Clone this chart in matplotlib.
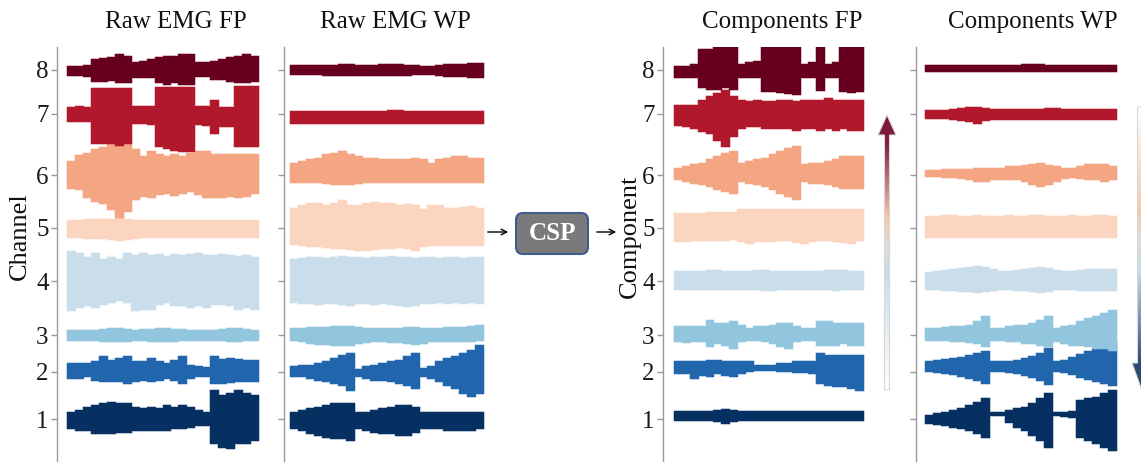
import numpy as np
import matplotlib
matplotlib.use("Agg")
import matplotlib.pyplot as plt
from matplotlib.colors import LinearSegmentedColormap
from matplotlib.patches import FancyBboxPatch, Polygon

plt.rcParams['font.family'] = ['Liberation Serif', 'DejaVu Serif']

W, H = 1141, 462

# stacking offsets of the 8 traces (tick positions), channel 1 .. 8
channels = ['1', '2', '3', '4', '5', '6', '7', '8']
offsets = [0, 47, 84, 138, 191, 244, 305, 349]
colors = ['#053061', '#2166ac', '#92c5de', '#c9ddeb',
          '#fbd5bf', '#f4a582', '#b2182b', '#67001f']
titles = ['Raw EMG FP', 'Raw EMG WP', 'Components FP', 'Components WP']

# envelope of each trace: half-width above (up) and
# below (dn) the offset, 24 samples along time, channel 1 .. 8
rawfp_up = [
    [7, 9, 12, 14, 16, 17, 16, 16, 12, 11, 12, 11, 14, 12, 14, 12, 9, 7, 29, 24, 26, 29, 26, 24],
    [9, 9, 9, 11, 16, 12, 14, 16, 11, 11, 14, 11, 9, 12, 16, 7, 6, 5, 16, 13, 14, 13, 12, 12],
    [5, 5, 5, 5, 6, 7, 7, 6, 5, 6, 6, 7, 7, 6, 6, 5, 5, 5, 5, 6, 7, 7, 6, 5],
    [30, 28, 24, 28, 22, 24, 22, 28, 26, 28, 26, 27, 25, 27, 26, 27, 28, 26, 26, 27, 26, 25, 26, 24],
    [8, 8, 9, 9, 9, 9, 10, 9, 8, 8, 8, 8, 8, 8, 8, 8, 8, 8, 8, 8, 8, 8, 8, 8],
    [14, 20, 22, 26, 28, 32, 38, 34, 26, 19, 24, 21, 19, 21, 19, 22, 24, 24, 21, 21, 21, 21, 21, 21],
    [7, 8, 7, 26, 26, 26, 26, 26, 8, 8, 8, 27, 27, 27, 27, 27, 8, 8, 14, 7, 7, 28, 28, 28],
    [4, 4, 5, 11, 12, 13, 16, 14, 8, 9, 11, 13, 14, 14, 16, 16, 8, 8, 9, 11, 13, 14, 16, 14],
]
rawfp_dn = [
    [9, 11, 11, 14, 14, 14, 13, 13, 11, 11, 11, 11, 11, 9, 9, 8, 6, 6, 24, 28, 29, 24, 24, 21],
    [6, 6, 4, 8, 9, 9, 9, 11, 9, 8, 9, 8, 6, 8, 11, 6, 4, 4, 11, 11, 10, 9, 9, 9],
    [5, 5, 5, 5, 6, 6, 6, 6, 5, 5, 6, 6, 6, 6, 5, 5, 5, 5, 5, 5, 6, 6, 5, 5],
    [29, 26, 24, 26, 23, 21, 19, 21, 29, 28, 28, 23, 21, 24, 24, 26, 24, 26, 23, 23, 24, 28, 26, 28],
    [9, 9, 10, 10, 10, 11, 12, 11, 10, 9, 9, 9, 9, 9, 9, 9, 9, 9, 9, 9, 9, 9, 9, 9],
    [13, 14, 22, 26, 28, 34, 42, 36, 24, 21, 22, 19, 18, 20, 18, 16, 19, 22, 22, 22, 21, 22, 21, 18],
    [7, 7, 7, 29, 29, 29, 31, 29, 9, 9, 10, 32, 34, 36, 37, 37, 10, 11, 19, 12, 12, 32, 32, 32],
    [5, 5, 6, 11, 11, 10, 12, 12, 7, 7, 7, 12, 14, 12, 14, 14, 6, 6, 9, 9, 11, 12, 12, 11],
]

rawwp_up = [
    [7, 9, 11, 12, 14, 16, 16, 16, 7, 7, 9, 11, 12, 14, 14, 12, 7, 7, 7, 7, 7, 7, 7, 7],
    [6, 7, 7, 9, 11, 14, 17, 19, 3, 6, 7, 9, 11, 12, 16, 19, 4, 6, 11, 14, 16, 19, 22, 27],
    [7, 7, 8, 8, 8, 9, 9, 9, 8, 7, 7, 7, 7, 7, 8, 8, 7, 7, 7, 8, 8, 8, 9, 10],
    [22, 23, 24, 24, 23, 24, 25, 24, 24, 23, 24, 24, 25, 24, 24, 23, 24, 24, 23, 24, 24, 23, 24, 24],
    [20, 23, 25, 25, 23, 25, 28, 23, 23, 25, 26, 25, 25, 23, 24, 23, 19, 23, 23, 20, 20, 21, 22, 20],
    [12, 14, 16, 17, 21, 22, 24, 21, 19, 17, 17, 16, 16, 16, 16, 17, 16, 12, 16, 17, 19, 19, 17, 17],
    [3, 3, 3, 3, 3, 3, 3, 3, 3, 3, 3, 3, 4, 4, 3, 3, 3, 3, 3, 3, 3, 3, 3, 3],
    [5, 5, 5, 5, 5, 5, 6, 6, 5, 5, 5, 6, 6, 6, 5, 5, 4, 4, 5, 6, 6, 6, 7, 7],
]
rawwp_dn = [
    [9, 11, 14, 16, 18, 19, 19, 21, 9, 11, 13, 14, 14, 16, 16, 13, 9, 9, 9, 11, 11, 11, 11, 9],
    [4, 4, 6, 8, 9, 11, 13, 18, 4, 6, 8, 8, 9, 11, 13, 16, 4, 6, 9, 13, 16, 21, 24, 21],
    [5, 6, 8, 9, 9, 10, 10, 10, 8, 7, 6, 6, 7, 7, 8, 9, 8, 6, 6, 6, 6, 6, 6, 5],
    [21, 22, 22, 23, 22, 22, 23, 24, 22, 22, 23, 22, 23, 24, 25, 24, 22, 22, 21, 22, 21, 22, 21, 22],
    [16, 17, 18, 18, 19, 20, 20, 21, 22, 22, 21, 20, 20, 19, 20, 22, 18, 17, 17, 17, 17, 17, 17, 17],
    [7, 7, 7, 7, 8, 9, 9, 9, 8, 7, 7, 7, 7, 7, 7, 7, 7, 7, 7, 7, 7, 7, 7, 7],
    [9, 9, 9, 9, 9, 9, 9, 9, 9, 9, 9, 9, 9, 9, 9, 9, 9, 9, 9, 9, 9, 9, 9, 9],
    [4, 4, 4, 4, 5, 5, 5, 5, 5, 5, 5, 5, 5, 5, 5, 4, 4, 4, 5, 6, 6, 6, 7, 7],
]

compfp_up = [
    [8, 8, 8, 8, 8, 9, 10, 9, 8, 8, 8, 8, 8, 8, 8, 8, 8, 8, 8, 8, 8, 8, 8, 8],
    [11, 11, 11, 11, 12, 12, 11, 11, 11, 11, 7, 7, 7, 9, 9, 11, 11, 11, 19, 17, 17, 17, 17, 17],
    [9, 9, 9, 9, 15, 12, 12, 14, 10, 7, 9, 9, 10, 12, 12, 9, 7, 7, 14, 14, 12, 12, 12, 12],
    [10, 10, 10, 10, 11, 11, 10, 10, 10, 10, 11, 11, 10, 10, 10, 10, 10, 10, 10, 11, 11, 11, 10, 10],
    [15, 15, 15, 15, 16, 16, 16, 16, 19, 19, 19, 19, 19, 19, 19, 19, 19, 19, 19, 19, 19, 19, 19, 19],
    [7, 9, 11, 12, 16, 19, 22, 24, 12, 14, 16, 17, 21, 24, 27, 29, 11, 12, 12, 14, 16, 19, 19, 19],
    [9, 9, 9, 14, 18, 21, 24, 18, 14, 13, 14, 13, 13, 14, 14, 13, 14, 14, 14, 16, 14, 14, 14, 14],
    [4, 4, 6, 21, 21, 26, 28, 28, 6, 8, 9, 23, 26, 33, 36, 36, 6, 8, 23, 6, 8, 29, 31, 28],
]
compfp_dn = [
    [1, 1, 1, 1, 1, 2, 4, 2, 1, 1, 1, 1, 1, 1, 1, 1, 1, 1, 1, 1, 1, 1, 1, 1],
    [1, 1, 6, 3, 4, 1, 3, 4, 1, -1, -2, -2, -2, -1, -1, 0, 0, 1, 11, 13, 14, 14, 16, 18],
    [6, 7, 6, 6, 11, 8, 10, 13, 6, 5, 5, 6, 8, 11, 13, 6, 5, 5, 10, 10, 10, 8, 10, 10],
    [8, 8, 8, 8, 8, 8, 8, 8, 8, 8, 8, 9, 9, 8, 8, 8, 8, 8, 8, 8, 9, 8, 8, 8],
    [13, 13, 12, 12, 12, 12, 12, 11, 13, 15, 13, 13, 13, 12, 12, 14, 15, 13, 12, 12, 13, 14, 15, 12],
    [4, 6, 8, 9, 11, 14, 16, 18, 6, 8, 9, 11, 14, 18, 21, 24, 6, 8, 8, 9, 11, 13, 13, 13],
    [11, 12, 14, 17, 19, 26, 32, 22, 14, 12, 12, 14, 14, 14, 14, 16, 14, 14, 16, 14, 16, 14, 16, 16],
    [7, 7, 7, 17, 19, 19, 17, 19, 7, 7, 7, 21, 21, 22, 23, 24, 7, 7, 20, 7, 7, 21, 22, 21],
]

compwp_up = [
    [4, 6, 7, 9, 11, 14, 17, 21, 7, 7, 9, 11, 12, 16, 21, 26, 7, 7, 8, 19, 21, 22, 26, 29],
    [11, 12, 13, 14, 15, 17, 19, 21, 11, 11, 11, 12, 14, 16, 19, 24, 11, 12, 15, 18, 21, 23, 26, 30],
    [7, 7, 8, 9, 9, 10, 14, 19, 7, 7, 9, 10, 10, 12, 15, 19, 7, 9, 10, 14, 17, 19, 22, 25],
    [9, 10, 11, 12, 13, 14, 15, 14, 12, 10, 10, 11, 12, 13, 14, 13, 11, 10, 10, 11, 12, 12, 12, 12],
    [12, 12, 13, 13, 12, 12, 13, 12, 12, 12, 13, 12, 12, 13, 13, 12, 12, 12, 13, 12, 12, 13, 13, 12],
    [5, 5, 6, 6, 6, 6, 7, 7, 7, 7, 9, 9, 10, 11, 12, 10, 9, 7, 7, 9, 11, 11, 11, 9],
    [4, 4, 4, 5, 6, 7, 7, 6, 5, 5, 5, 5, 5, 5, 5, 6, 6, 5, 5, 5, 5, 5, 5, 5],
    [5, 5, 5, 5, 5, 5, 5, 5, 5, 5, 5, 5, 6, 6, 6, 5, 5, 5, 5, 5, 5, 5, 5, 5],
]
compwp_dn = [
    [4, 5, 6, 8, 9, 11, 14, 18, -4, -4, 3, 8, 11, 16, 21, 28, -4, -3, -2, 18, 21, 24, 28, 31],
    [-1, 0, 1, 2, 4, 6, 8, 11, -1, -1, 0, 1, 3, 5, 8, 12, -1, 0, 2, 5, 7, 9, 11, 13],
    [5, 5, 5, 6, 6, 7, 8, 11, 5, 5, 6, 6, 8, 8, 10, 11, 6, 8, 10, 10, 11, 13, 13, 15],
    [8, 8, 9, 9, 10, 10, 11, 10, 9, 8, 8, 9, 9, 10, 11, 10, 8, 8, 8, 9, 9, 9, 9, 9],
    [9, 9, 9, 9, 9, 9, 9, 9, 9, 9, 9, 9, 9, 9, 9, 9, 9, 9, 9, 9, 9, 9, 9, 9],
    [1, 1, 2, 2, 3, 4, 6, 6, 4, 4, 4, 4, 6, 9, 11, 9, 6, 3, 2, 3, 4, 4, 6, 4],
    [4, 4, 4, 5, 6, 7, 9, 6, 5, 5, 5, 5, 5, 5, 5, 5, 5, 5, 5, 5, 5, 5, 5, 5],
    [1, 1, 1, 1, 1, 1, 1, 1, 1, 1, 1, 1, 1, 1, 1, 1, 1, 1, 1, 1, 1, 1, 1, 1],
]

panels = [(rawfp_up, rawfp_dn), (rawwp_up, rawwp_dn),
          (compfp_up, compfp_dn), (compwp_up, compwp_dn)]

# layout in pixels: spine x, trace start x, trace end x, title centre x
layout = [(57, 67, 258, 176), (284, 290, 483, 395),
          (663, 674, 863, 782), (916, 925, 1116, 1033)]
top_px = 47
ymin, ymax = -43, 372

fig = plt.figure(figsize=(W / 100, H / 100), dpi=100)

for k, ((ups, dns), (sx, t0, t1, tx)) in enumerate(zip(panels, layout)):
    right = t1 + 4
    ax = fig.add_axes([sx / W, 0, (right - sx) / W, (H - top_px) / H])
    n = len(ups[0])
    edges = np.arange(n + 1) / n
    ax.set_xlim((sx - t0) / (t1 - t0), (right - t0) / (t1 - t0))
    ax.set_ylim(ymin, ymax)
    for ch in range(8):
        up = np.array(ups[ch] + [ups[ch][-1]])
        dn = np.array(dns[ch] + [dns[ch][-1]])
        # faint fringe, then the solid core
        ax.fill_between(edges, offsets[ch] + up, offsets[ch] - dn,
                        step='post', facecolor='none', edgecolor=colors[ch],
                        lw=2.0, alpha=0.25, zorder=2 + 2 * ch)
        ax.fill_between(edges, offsets[ch] + up, offsets[ch] - dn,
                        step='post', color=colors[ch], lw=0.8,
                        edgecolor=colors[ch], zorder=3 + 2 * ch)
    for s in ['top', 'right', 'bottom']:
        ax.spines[s].set_visible(False)
    ax.spines['left'].set_color('#9a9a9a')
    ax.spines['left'].set_linewidth(1.0)
    ax.set_xticks([])
    ax.set_yticks(offsets)
    ax.tick_params(axis='y', direction='out', length=4, width=1,
                   color='#9a9a9a', labelsize=18, labelcolor='#1a1a1a', pad=2)
    if k in (0, 2):
        ax.set_yticklabels(channels)
    else:
        ax.set_yticklabels([])
    ax.patch.set_alpha(0)
    fig.text(tx / W, 1 - 28 / H, titles[k], ha='center', va='baseline',
             fontsize=18, color='#111111')

fig.text(20 / W, 1 - 236 / H, 'Channel', rotation=90, ha='center',
         va='center', fontsize=19, color='#111111')
fig.text(630 / W, 1 - 236 / H, 'Component', rotation=90, ha='center',
         va='center', fontsize=19, color='#111111')

# overlay in pixel coordinates for the CSP block and gradient arrows
ov = fig.add_axes([0, 0, 1, 1])
ov.set_xlim(0, W)
ov.set_ylim(H, 0)
ov.axis('off')
ov.patch.set_alpha(0)

box = FancyBboxPatch((516, 213), 72, 41,
                     boxstyle='round,pad=0,rounding_size=7',
                     fc='#7a7a7a', ec='#3f5c8c', lw=1.5)
ov.add_patch(box)
ov.text(552, 234, 'CSP', color='white', fontsize=18, fontweight='bold',
        ha='center', va='center')
ov.annotate('', xy=(511, 232), xytext=(485, 232),
            arrowprops=dict(arrowstyle='->', color='k', lw=1))
ov.annotate('', xy=(619, 232), xytext=(594, 232),
            arrowprops=dict(arrowstyle='->', color='k', lw=1))

up_cmap = LinearSegmentedColormap.from_list('upgrad', [
    (0, '#ffffff'), (0.43, '#c8dcea'), (0.53, '#e0dcd8'), (0.63, '#f5c8a8'),
    (0.75, '#c27c84'), (0.9, '#7e1c3a'), (1, '#7a1838')])
dn_cmap = LinearSegmentedColormap.from_list('dngrad', [
    (0, '#ffffff'), (0.36, '#f5c8a8'), (0.45, '#e0dcd8'), (0.57, '#c8dcea'),
    (0.76, '#6f8fb0'), (0.9, '#2b4a72'), (1, '#2b4a72')])

grad = np.linspace(0, 1, 256).reshape(-1, 1)

# upward arrow next to the Components FP panel
up_pts = [(884.5, 390), (889.5, 390), (889.5, 135), (896, 135),
          (887, 115), (878, 135), (884.5, 135)]
up_poly = Polygon(up_pts, closed=True, fc='none', ec='#d8d8d8', lw=0.8)
ov.add_patch(up_poly)
im = ov.imshow(grad, cmap=up_cmap, extent=(877, 897, 390, 115),
               origin='lower', aspect='auto', interpolation='bilinear')
im.set_clip_path(up_poly)

# downward arrow at the right edge
dn_pts = [(1137.5, 107), (1148, 107), (1148, 363), (1153, 363),
          (1142.5, 392), (1132, 363), (1137.5, 363)]
dn_poly = Polygon(dn_pts, closed=True, fc='none', ec='#d8d8d8', lw=0.8)
ov.add_patch(dn_poly)
im2 = ov.imshow(grad, cmap=dn_cmap, extent=(1131, 1154, 107, 392),
                origin='lower', aspect='auto', interpolation='bilinear')
im2.set_clip_path(dn_poly)
ov.set_xlim(0, W)
ov.set_ylim(H, 0)

fig.savefig('out.png', dpi=100)
